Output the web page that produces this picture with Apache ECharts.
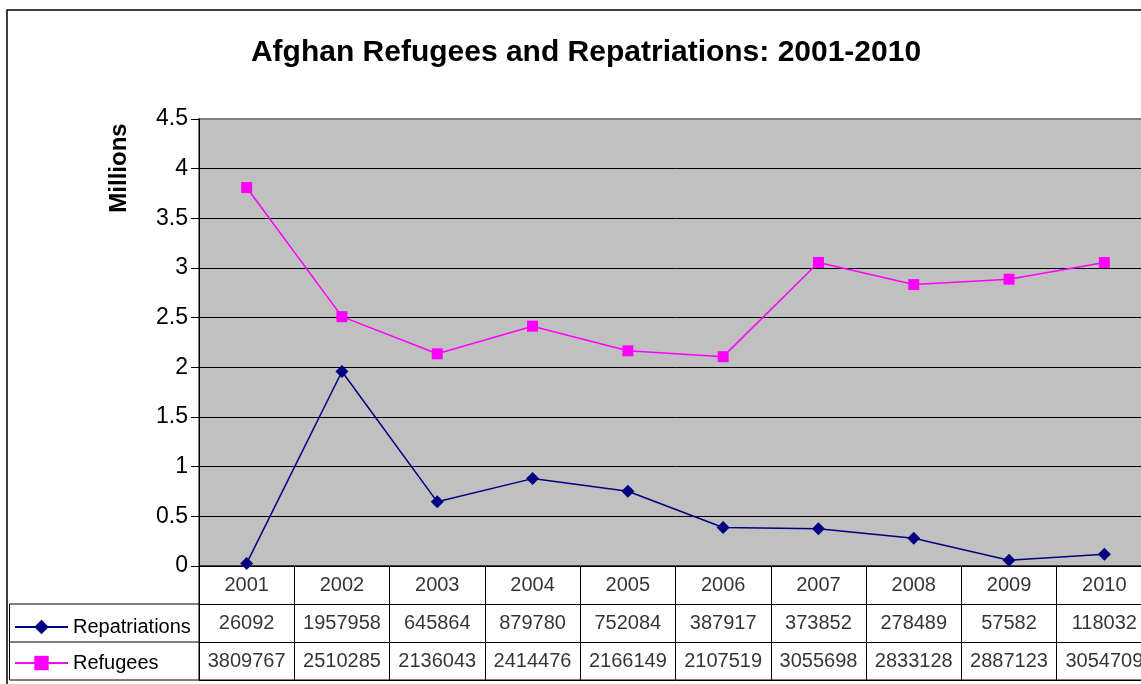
<!DOCTYPE html>
<html>
<head>
<meta charset="utf-8">
<script src="https://cdn.jsdelivr.net/npm/echarts@6/dist/echarts.min.js"></script>
<style>
  html, body { margin: 0; padding: 0; background: #fff; overflow: hidden; }
  /* the original chart runs past the right edge of the picture */
  #chart { width: 1160px; height: 684px; }
</style>
</head>
<body>
<div id="chart"></div>
<script>
// data
var years = ['2001', '2002', '2003', '2004', '2005', '2006', '2007', '2008', '2009', '2010'];
var repatriations = [26092, 1957958, 645864, 879780, 752084, 387917, 373852, 278489, 57582, 118032];
var refugees = [3809767, 2510285, 2136043, 2414476, 2166149, 2107519, 3055698, 2833128, 2887123, 3054709];
var tableRows = ['year', 'Repatriations', 'Refugees'];

var font = 'Liberation Sans, Arial, sans-serif';

// cells of the data table, placed on the table grid's own axes
var cells = [];
years.forEach(function (y, i) {
    cells.push([i, 'year', y]);
    cells.push([i, 'Repatriations', String(repatriations[i])]);
    cells.push([i, 'Refugees', String(refugees[i])]);
});

var chart = echarts.init(document.getElementById('chart'));

var option = {
    backgroundColor: '#fff',
    animation: false,
    title: {
        text: 'Afghan Refugees and Repatriations: 2001-2010',
        left: 581,
        top: 33,
        textAlign: 'center',
        textStyle: { fontFamily: font, fontSize: 30, fontWeight: 'bold', color: '#000' }
    },
    legend: {
        data: ['Repatriations', 'Refugees'],
        orient: 'vertical',
        left: 14,
        top: 617,
        padding: 0,
        itemWidth: 53,
        itemHeight: 18,
        itemGap: 16,
        textStyle: { fontFamily: font, fontSize: 20, color: '#000' }
    },
    grid: [
        { left: 199, width: 953, top: 119, bottom: 118, show: true,
          backgroundColor: '#c0c0c0', borderColor: '#808080', borderWidth: 2 },
        { left: 199, width: 953, top: 566, height: 114, show: true,
          borderColor: '#000', borderWidth: 1 }
    ],
    xAxis: [
        { type: 'category', gridIndex: 0, data: years, boundaryGap: true,
          axisLine: { show: false }, axisTick: { show: false }, axisLabel: { show: false } },
        { type: 'category', gridIndex: 1, data: years, boundaryGap: true,
          axisLine: { show: false }, axisTick: { show: false }, axisLabel: { show: false },
          splitLine: { show: true, interval: 0, lineStyle: { color: '#000', width: 1 } } }
    ],
    yAxis: [
        { type: 'value', gridIndex: 0, min: 0, max: 4.5, interval: 0.5,
          axisLine: { show: true, lineStyle: { color: '#000', width: 1 } },
          axisTick: { show: true, length: 8, lineStyle: { color: '#000' } },
          axisLabel: { margin: 11, fontFamily: font, fontSize: 23, color: '#000',
                       formatter: function (v) { return String(v); } },
          splitLine: { show: true, showMaxLine: false, lineStyle: { color: '#000', width: 1 } } },
        { type: 'category', gridIndex: 1, data: tableRows, inverse: true, boundaryGap: true,
          axisLine: { show: false }, axisTick: { show: false }, axisLabel: { show: false },
          splitLine: { show: true, interval: 0, lineStyle: { color: '#000', width: 1 } } }
    ],
    series: [
        { name: 'Repatriations', type: 'line', xAxisIndex: 0, yAxisIndex: 0,
          data: repatriations.map(function (v) { return v / 1e6; }),
          symbol: 'diamond', symbolSize: 13,
          lineStyle: { color: '#000080', width: 1.5 },
          itemStyle: { color: '#000080' } },
        { name: 'Refugees', type: 'line', xAxisIndex: 0, yAxisIndex: 0,
          data: refugees.map(function (v) { return v / 1e6; }),
          symbol: 'rect', symbolSize: 11,
          lineStyle: { color: '#ff00ff', width: 1.5 },
          itemStyle: { color: '#ff00ff' } },
        { type: 'scatter', xAxisIndex: 1, yAxisIndex: 1, data: cells,
          symbolSize: 0, silent: true,
          label: { show: true, position: 'inside', fontFamily: font, fontSize: 20, color: '#000',
                   formatter: function (p) { return p.value[2]; } } }
    ],
    graphic: [
        // outer chart frame
        { type: 'rect', silent: true, z: -1,
          shape: { x: 7, y: 10, width: 1180, height: 700 },
          style: { fill: null, stroke: '#000', lineWidth: 1.5 } },
        // left column of the data table (legend cells)
        { type: 'rect', silent: true,
          shape: { x: 9.5, y: 604, width: 190, height: 76 },
          style: { fill: null, stroke: '#000', lineWidth: 1 } },
        { type: 'line', silent: true,
          shape: { x1: 9.5, y1: 642, x2: 199, y2: 642 },
          style: { stroke: '#000', lineWidth: 1 } },
        // axis title
        { type: 'text', silent: true, x: 119, y: 168, rotation: Math.PI / 2,
          style: { text: 'Millions', fontFamily: font, fontSize: 24, fontWeight: 'bold',
                   fill: '#000', align: 'center', verticalAlign: 'middle' } }
    ]
};

chart.setOption(option);
</script>
</body>
</html>
